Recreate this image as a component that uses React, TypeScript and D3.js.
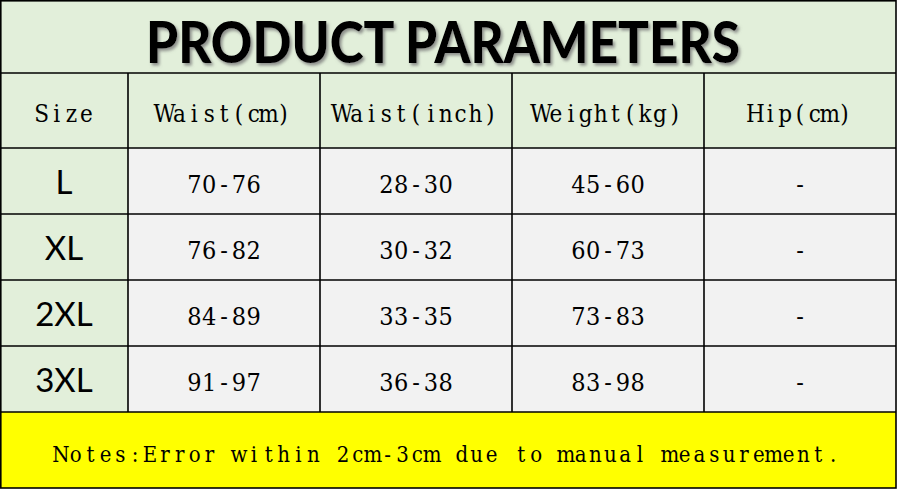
import { useEffect } from 'react';
import * as d3 from 'd3';

const title = 'PRODUCT PARAMETERS';
const headers = ['Size', 'Waist(cm)', 'Waist(inch)', 'Weight(kg)', 'Hip(cm)'];
const sizes = ['L', 'XL', '2XL', '3XL'];
const waistCm = ['70-76', '76-82', '84-89', '91-97'];
const waistInch = ['28-30', '30-32', '33-35', '36-38'];
const weightKg = ['45-60', '60-73', '73-83', '83-98'];
const hipCm = ['-', '-', '-', '-'];
const note = 'Notes:Error within 2cm-3cm due to manual measurement.';

const colWeights = [2, 3, 3, 3, 3];

const W = 897;
const H = 489;
const PITCH = 14.85;
const GREEN = '#e2efda';
const GREY = '#f2f2f2';
const SERIF = '"DejaVu Serif Condensed", "DejaVu Serif", serif';
const SANS = 'Lato, "Open Sans", sans-serif';

// emulate a monospaced font: every character centred on its own slot
function monoX(str: string, cx: number) {
  const start = cx - (str.length * PITCH) / 2 + PITCH / 2;
  return str.split('').map((_, i) => (start + i * PITCH).toFixed(1)).join(' ');
}

export default function App() {
  useEffect(() => {
    document.body.style.margin = '0';
  }, []);

  const edges = [0, ...d3.cumsum(colWeights)];
  const x = d3.scaleLinear().domain([0, d3.sum(colWeights)]).range([0, 896]);
  const rowY = d3.scaleBand<string>().domain(sizes).range([148, 412]);
  const titleTop = 0;
  const headTop = 73;
  const noteTop = 412;
  const noteBottom = 488;

  const columns = [sizes, waistCm, waistInch, weightKg, hipCm];
  const colCenter = (i: number) => (x(edges[i]) + x(edges[i + 1])) / 2;

  return (
    <svg width={W} height={H} style={{ display: 'block', background: '#fff' }}>
      <defs>
        <filter id="shadow" x="-5%" y="-20%" width="110%" height="150%">
          <feDropShadow dx="2" dy="2.5" stdDeviation="1.6" floodColor="#777" floodOpacity="0.8" />
        </filter>
      </defs>

      {/* title band */}
      <rect x={x(0)} y={titleTop} width={x(14) - x(0)} height={headTop - titleTop} fill={GREEN} />
      <text
        x={443}
        y={63}
        textAnchor="middle"
        fontFamily={SANS}
        fontWeight={900}
        fontSize={57}
        textLength={594}
        lengthAdjust="spacingAndGlyphs"
        fill="#000"
        filter="url(#shadow)"
      >
        {title}
      </text>

      {/* header row */}
      <rect x={x(0)} y={headTop} width={x(14) - x(0)} height={148 - headTop} fill={GREEN} />
      {headers.map((h, i) => (
        <text key={h} x={monoX(h, colCenter(i))} y={122} textAnchor="middle" fontFamily={SERIF} fontStretch="condensed" fontSize={24} fill="#000">
          {h}
        </text>
      ))}

      {/* body cells */}
      {columns.map((col, ci) =>
        col.map((v, ri) => {
          const y0 = rowY(sizes[ri])!;
          const bw = rowY.bandwidth();
          return (
            <g key={`${ci}-${ri}`}>
              <rect
                x={x(edges[ci])}
                y={y0}
                width={x(edges[ci + 1]) - x(edges[ci])}
                height={bw}
                fill={ci === 0 ? GREEN : GREY}
              />
              {ci === 0 ? (
                <text x={colCenter(ci)} y={y0 + bw / 2 + 12.5} textAnchor="middle" fontFamily={SANS} fontSize={33} fill="#000">
                  {v}
                </text>
              ) : (
                <text x={monoX(v, colCenter(ci))} y={y0 + bw / 2 + 12} textAnchor="middle" fontFamily={SERIF} fontStretch="condensed" fontSize={25} fill="#000">
                  {v}
                </text>
              )}
            </g>
          );
        })
      )}

      {/* notes band */}
      <rect x={x(0)} y={noteTop} width={x(14) - x(0)} height={noteBottom - noteTop} fill="#ffff00" />
      <text x={monoX(note, 447)} y={462} textAnchor="middle" fontFamily={SERIF} fontStretch="condensed" fontSize={22} fill="#000">
        {note}
      </text>

      {/* grid lines */}
      <g stroke="#000" strokeWidth={1.6} fill="none">
        <rect x={0.8} y={0.8} width={x(14) - 0.8} height={noteBottom - 0.8} />
        {[headTop, 148, ...sizes.slice(1).map((s) => rowY(s)!), noteTop].map((yy, i) => (
          <line key={`h${i}`} x1={x(0)} x2={x(14)} y1={yy} y2={yy} />
        ))}
        {edges.slice(1, -1).map((e, i) => (
          <line key={`v${i}`} x1={x(e)} x2={x(e)} y1={headTop} y2={noteTop} />
        ))}
      </g>
    </svg>
  );
}
